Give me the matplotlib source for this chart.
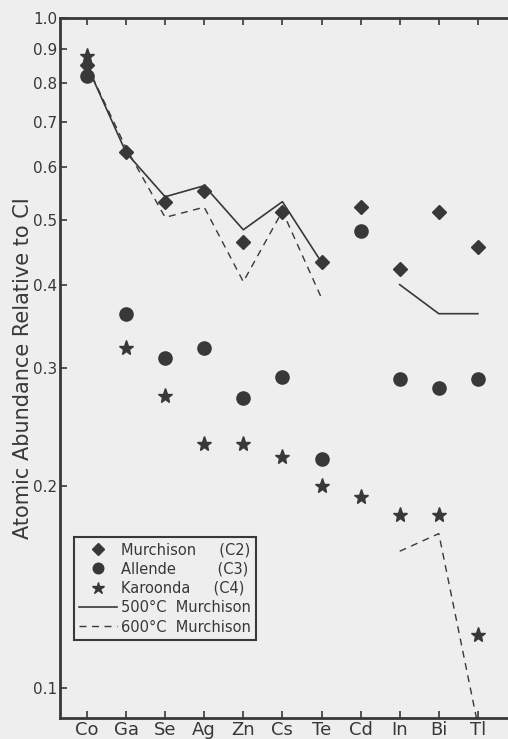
import numpy as np
import matplotlib.pyplot as plt
from matplotlib.ticker import FixedLocator, NullLocator, FixedFormatter

elements = ["Co", "Ga", "Se", "Ag", "Zn", "Cs", "Te", "Cd", "In", "Bi", "Tl"]

murchison = [0.85, 0.63, 0.531, 0.552, 0.463, 0.514, 0.432, 0.522, 0.422, 0.513, 0.455]
allende = [0.819, 0.362, 0.311, 0.322, 0.271, 0.291, 0.220, 0.481, 0.289, 0.280, 0.289]
karoonda = [0.878, 0.322, 0.273, 0.231, 0.231, 0.221, 0.200, 0.193, 0.181, 0.181, 0.120]

heat500 = [0.85, 0.63, 0.541, 0.562, 0.483, 0.532, 0.432, np.nan, 0.400, 0.362, 0.362]
heat600 = [0.85, 0.64, 0.504, 0.522, 0.404, 0.515, 0.382, np.nan, 0.160, 0.170, 0.088]

yticks = [0.1, 0.2, 0.3, 0.4, 0.5, 0.6, 0.7, 0.8, 0.9, 1.0]
ytick_labels = ["0.1", "0.2", "0.3", "0.4", "0.5", "0.6", "0.7", "0.8", "0.9", "1.0"]

ink = "#383838"
bg = "#eeeeee"

plt.rcParams["font.family"] = ["DejaVu Sans"]

fig = plt.figure(figsize=(5.08, 7.39), dpi=100, facecolor=bg)
ax = fig.add_axes([0.118, 0.0284, 0.882, 0.9472], facecolor=bg)

x = np.arange(len(elements))

ax.plot(x, heat500, "-", color=ink, lw=1.2, label="500°C  Murchison")
ax.plot(x, heat600, "--", color=ink, lw=1.0, dashes=(5, 4), label="600°C  Murchison")
ax.plot(x, murchison, "D", color=ink, ms=7.5, ls="none", label="Murchison     (C2)")
ax.plot(x, allende, "o", color=ink, ms=9.5, ls="none", label="Allende         (C3)")
ax.plot(x, karoonda, "*", color=ink, ms=11, ls="none", label="Karoonda     (C4)")

ax.set_yscale("log")
ax.set_ylim(0.0902, 1.0)
ax.set_xlim(-0.69, 10.77)
ax.yaxis.set_major_locator(FixedLocator(yticks))
ax.yaxis.set_major_formatter(FixedFormatter(ytick_labels))
ax.yaxis.set_minor_locator(NullLocator())
ax.set_xticks(x)
ax.set_xticklabels(elements, fontsize=13, color=ink)

ax.tick_params(axis="y", direction="in", length=5, width=1.2, labelsize=11,
               colors=ink, pad=2)
ax.tick_params(axis="x", direction="in", length=5, width=1.2, top=True,
               labelsize=13, colors=ink, pad=2)

for side in ["left", "bottom", "top"]:
    ax.spines[side].set_color(ink)
    ax.spines[side].set_linewidth(2)
ax.spines["right"].set_visible(False)

ax.set_ylabel("Atomic Abundance Relative to CI", fontsize=15, color=ink, labelpad=0)

handles, labels = ax.get_legend_handles_labels()
order = [2, 3, 4, 0, 1]
leg = ax.legend([handles[i] for i in order], [labels[i] for i in order],
                loc="lower left", bbox_to_anchor=(0.031, 0.112), frameon=True,
                fancybox=False, edgecolor=ink, facecolor=bg, framealpha=1,
                fontsize=10.5, handlelength=2.6, handletextpad=0.3,
                borderpad=0.35, labelspacing=0.3, borderaxespad=0,
                markerscale=0.8)
leg.get_frame().set_linewidth(1.5)
for t in leg.get_texts():
    t.set_color(ink)

fig.savefig("out.png", dpi=100, facecolor=bg)
